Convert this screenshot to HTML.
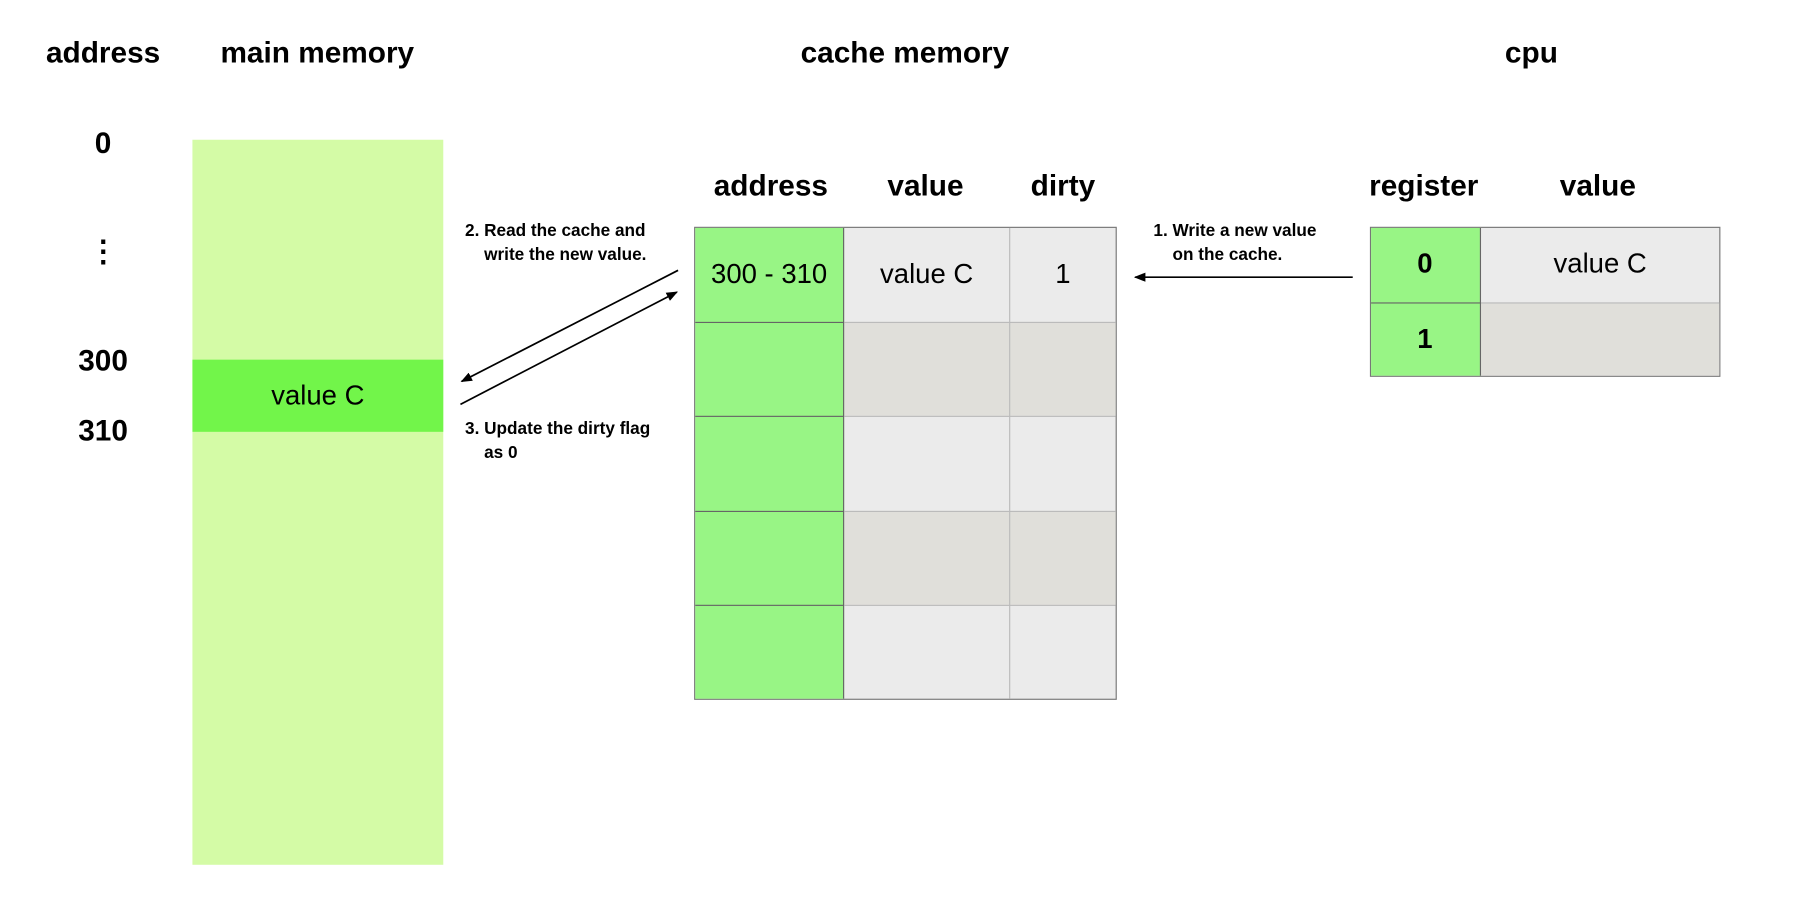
<!DOCTYPE html>
<html><head><style>
html,body{margin:0;padding:0;background:#fff;width:1796px;height:916px;overflow:hidden}
#w{position:absolute;left:0;top:0;width:1568px;height:800px;transform:scale(1.14541);transform-origin:0 0;font-family:"Liberation Sans",sans-serif;color:#000}
.t{position:absolute;white-space:nowrap;transform:translate(-50%,-50%)}
.h{font-weight:bold;font-size:26px}
.b{position:absolute;box-sizing:border-box}
.c{position:absolute;display:flex;align-items:center;justify-content:center;font-size:24px;box-sizing:border-box}
.l{position:absolute;font-weight:bold;font-size:15px;line-height:21px;white-space:nowrap}
</style></head><body><div id="w">
<div class="t h" style="left:90px;top:46px">address</div>
<div class="t h" style="left:277px;top:46px">main memory</div>
<div class="t h" style="left:790px;top:46px">cache memory</div>
<div class="t h" style="left:1337px;top:46px">cpu</div>
<div class="t h" style="left:90px;top:125px">0</div>
<div class="t h" style="left:90px;top:220px">⋮</div>
<div class="t h" style="left:90px;top:315px">300</div>
<div class="t h" style="left:90px;top:376px">310</div>
<div class="b" style="left:168px;top:122px;width:219px;height:633px;background:#d4fba6"></div>
<div class="c" style="left:168px;top:314px;width:219px;height:63px;background:#72f54a">value C</div>

<div class="t h" style="left:673px;top:162px">address</div>
<div class="t h" style="left:808px;top:162px">value</div>
<div class="t h" style="left:928px;top:162px">dirty</div>

<div class="b" style="left:606px;top:198px;width:369px;height:413px;border:1px solid #777;background:#ebebeb"></div>
<div class="b" style="left:737px;top:281px;width:237px;height:82px;background:#e0dfda"></div>
<div class="b" style="left:737px;top:446px;width:237px;height:82px;background:#e0dfda"></div>
<div class="b" style="left:607px;top:199px;width:130px;height:411px;background:#98f585;border-right:1px solid #666"></div>
<div class="b" style="left:607px;top:281px;width:130px;height:1px;background:#666"></div>
<div class="b" style="left:607px;top:363px;width:130px;height:1px;background:#666"></div>
<div class="b" style="left:607px;top:446px;width:130px;height:1px;background:#666"></div>
<div class="b" style="left:607px;top:528px;width:130px;height:1px;background:#666"></div>
<div class="b" style="left:737px;top:281px;width:237px;height:1px;background:#bbb"></div>
<div class="b" style="left:737px;top:363px;width:237px;height:1px;background:#bbb"></div>
<div class="b" style="left:737px;top:446px;width:237px;height:1px;background:#bbb"></div>
<div class="b" style="left:737px;top:528px;width:237px;height:1px;background:#bbb"></div>
<div class="b" style="left:881px;top:199px;width:1px;height:411px;background:#bbb"></div>
<div class="c" style="left:606px;top:198px;width:131px;height:83px">300 - 310</div>
<div class="c" style="left:737px;top:198px;width:144px;height:83px">value C</div>
<div class="c" style="left:881px;top:198px;width:94px;height:83px">1</div>

<div class="l" style="left:406px;top:191px">2. Read the cache and<br>&nbsp;&nbsp;&nbsp;&nbsp;write the new value.</div>
<div class="l" style="left:406px;top:364px">3. Update the dirty flag<br>&nbsp;&nbsp;&nbsp;&nbsp;as 0</div>
<div class="l" style="left:1007px;top:191px">1. Write a new value<br>&nbsp;&nbsp;&nbsp;&nbsp;on the cache.</div>

<svg style="position:absolute;left:0;top:0" width="1568" height="800">
<defs><marker id="a" markerWidth="10" markerHeight="8" refX="9" refY="4" orient="auto" markerUnits="userSpaceOnUse"><path d="M0,0 L10,4 L0,8 z" fill="#000"/></marker></defs>
<line x1="592" y1="236" x2="403" y2="333" stroke="#000" stroke-width="1.5" marker-end="url(#a)"/>
<line x1="402" y1="353" x2="591" y2="255" stroke="#000" stroke-width="1.5" marker-end="url(#a)"/>
<line x1="1181" y1="242" x2="991" y2="242" stroke="#000" stroke-width="1.5" marker-end="url(#a)"/>
</svg>

<div class="t h" style="left:1243px;top:162px">register</div>
<div class="t h" style="left:1395px;top:162px">value</div>
<div class="b" style="left:1196px;top:198px;width:306px;height:131px;border:1px solid #777;background:#ebebeb"></div>
<div class="b" style="left:1292px;top:264px;width:209px;height:64px;background:#e0dfda;border-top:1px solid #bbb"></div>
<div class="b" style="left:1197px;top:199px;width:96px;height:129px;background:#98f585;border-right:1px solid #666"></div>
<div class="b" style="left:1197px;top:264px;width:96px;height:1px;background:#666"></div>
<div class="c" style="left:1196px;top:198px;width:96px;height:66px;font-weight:bold">0</div>
<div class="c" style="left:1196px;top:264px;width:96px;height:65px;font-weight:bold">1</div>
<div class="c" style="left:1292px;top:198px;width:210px;height:66px">value C</div>
</div></body></html>
